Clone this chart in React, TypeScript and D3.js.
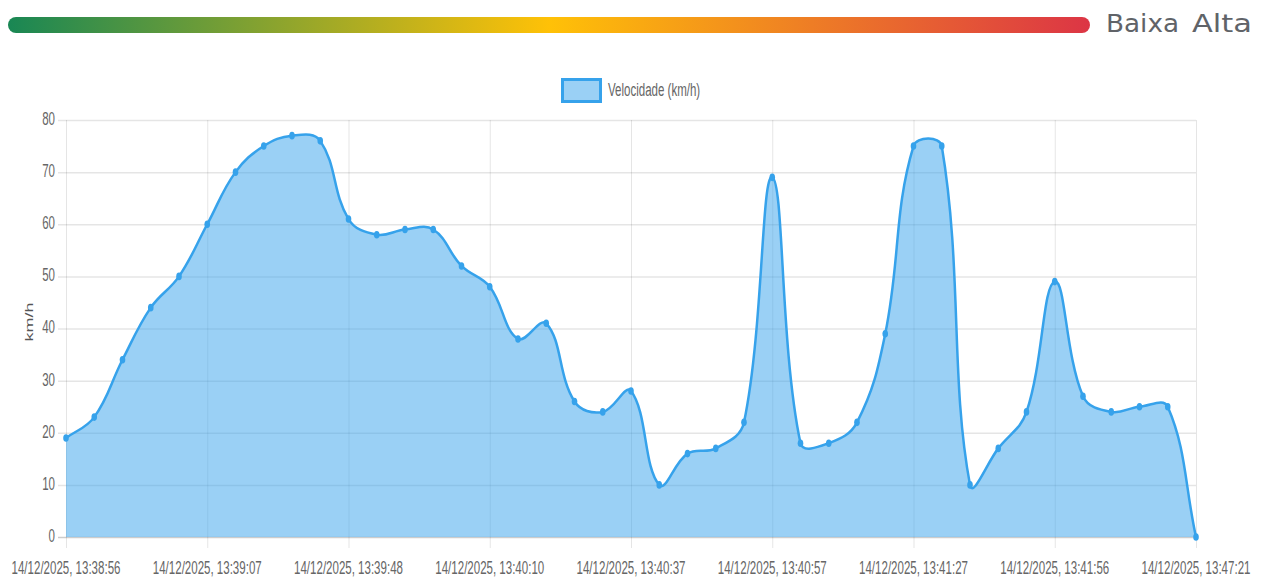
import React from 'react';
import * as d3 from 'd3';

// speed samples, km/h (one per reading)
const speeds = [
  19, 23, 34, 44, 50, 60, 70, 75, 77, 76,
  61, 58, 59, 59, 52, 48, 38, 41, 26, 24,
  28, 10, 16, 17, 22, 69, 18, 18, 22, 39,
  75, 75, 10, 17, 24, 49, 27, 24, 25, 25,
  0,
];

// only every 5th reading gets a label on the axis
const tickLabels = [
  '14/12/2025, 13:38:56',
  '14/12/2025, 13:39:07',
  '14/12/2025, 13:39:48',
  '14/12/2025, 13:40:10',
  '14/12/2025, 13:40:37',
  '14/12/2025, 13:40:57',
  '14/12/2025, 13:41:27',
  '14/12/2025, 13:41:56',
  '14/12/2025, 13:47:21',
];
const tickStep = 5;
const yTicks = [0, 10, 20, 30, 40, 50, 60, 70, 80];

const seriesName = 'Velocidade (km/h)';
const yTitle = 'km/h';
const levelLabels = ['Baixa', 'Alta'];

const W = 1262, H = 583;
const area = {left: 66, right: 1196, top: 120, bottom: 537};
const blue = '#36A2EB';
const fill = 'rgba(54,162,235,0.5)';
const grid = 'rgba(0,0,0,0.1)';
const txt = '#666';
const font = '"Liberation Sans", Arial, sans-serif';
// chart text looks squeezed sideways and stretched vertically
const sx = 0.96, sy = 1.5;

type P = {x: number, y: number};

// chart.js style bezier spline (tension 0.4)
function splinePath(pts: P[], closeY?: number) {
  const t = 0.4;
  const cps = pts.map((cur, i) => {
    const prev = pts[i - 1] || cur;
    const next = pts[i + 1] || cur;
    const d01 = Math.hypot(cur.x - prev.x, cur.y - prev.y);
    const d12 = Math.hypot(next.x - cur.x, next.y - cur.y);
    let s01 = d01 / (d01 + d12);
    let s12 = d12 / (d01 + d12);
    if (isNaN(s01)) s01 = 0;
    if (isNaN(s12)) s12 = 0;
    const fa = t * s01, fb = t * s12;
    const clampY = (v: number) => Math.max(area.top, Math.min(area.bottom, v));
    return {
      px: cur.x - fa * (next.x - prev.x),
      py: clampY(cur.y - fa * (next.y - prev.y)),
      nx: cur.x + fb * (next.x - prev.x),
      ny: clampY(cur.y + fb * (next.y - prev.y)),
    };
  });
  const p = d3.path();
  p.moveTo(pts[0].x, pts[0].y);
  for (let i = 1; i < pts.length; i++) {
    p.bezierCurveTo(cps[i - 1].nx, cps[i - 1].ny, cps[i].px, cps[i].py, pts[i].x, pts[i].y);
  }
  if (closeY !== undefined) {
    p.lineTo(pts[pts.length - 1].x, closeY);
    p.lineTo(pts[0].x, closeY);
    p.closePath();
  }
  return p.toString();
}

export default function App() {
  const x = d3.scaleLinear().domain([0, speeds.length - 1]).range([area.left, area.right]);
  const y = d3.scaleLinear().domain([0, 80]).range([area.bottom, area.top]);

  const pts = speeds.map((v, i) => ({x: x(i), y: y(v)}));
  const line = splinePath(pts);
  const areaPath = splinePath(pts, y(0));

  const tickIdx = tickLabels.map((_, i) => i * tickStep);

  return (
    <svg width={W} height={H} style={{position: 'absolute', left: 0, top: 0}} fontFamily={font}>
      <defs>
        <linearGradient id="lvl" x1="0" x2="1" y1="0" y2="0">
          <stop offset="0%" stopColor="#198754"/>
          <stop offset="50%" stopColor="#ffc107"/>
          <stop offset="100%" stopColor="#dc3545"/>
        </linearGradient>
      </defs>

      {/* level bar */}
      <rect x={8} y={17} width={1082} height={16} rx={8} fill="url(#lvl)"/>
      <text x={1106} y={32} fontFamily='"DejaVu Sans", sans-serif' fontSize={24} fill="#606368"
            textLength={73} lengthAdjust="spacingAndGlyphs">{levelLabels[0]}</text>
      <text x={1192} y={32} fontFamily='"DejaVu Sans", sans-serif' fontSize={24} fill="#606368"
            textLength={60} lengthAdjust="spacingAndGlyphs">{levelLabels[1]}</text>

      {/* legend */}
      <rect x={562.5} y={79.5} width={38} height={22} fill={fill} stroke={blue} strokeWidth={3}/>
      <text transform={`translate(608, 96) scale(${sx}, ${sy})`} fontSize={12} fill={txt}>{seriesName}</text>

      {/* horizontal grid + y ticks */}
      <g className="gy">
        {yTicks.map(v => (
          <g key={v}>
            <line x1={58} x2={area.right} y1={y(v) + 0.5} y2={y(v) + 0.5}
                  stroke={v === 0 ? 'rgba(0,0,0,0.2)' : grid} strokeWidth={1.5}/>
            <text transform={`translate(55, ${y(v)}) scale(${sx}, ${sy})`} textAnchor="end"
                  dy="0.27em" fontSize={12} fill={txt}>{v}</text>
          </g>
        ))}
      </g>

      {/* vertical grid + x ticks */}
      <g className="gx">
        {tickIdx.map((idx, i) => (
          <g key={idx}>
            <line x1={x(idx) + 0.5} x2={x(idx) + 0.5} y1={area.top} y2={548} stroke={grid} strokeWidth={1}/>
            <text transform={`translate(${x(idx)}, 574) scale(${sx}, ${sy})`} textAnchor="middle"
                  fontSize={12} fill={txt}>{tickLabels[i]}</text>
          </g>
        ))}
      </g>

      <text transform={`translate(33, 322) scale(${sx}, ${sy}) rotate(-90)`} textAnchor="middle"
            fontSize={12} fill="#555">{yTitle}</text>

      {/* series */}
      <path d={areaPath} fill={fill}/>
      <path d={line} fill="none" stroke={blue} strokeWidth={2.5}/>
      {pts.map((p, i) => (
        <ellipse key={i} cx={p.x} cy={p.y} rx={2.8} ry={3.8} fill={blue}/>
      ))}
    </svg>
  );
}
